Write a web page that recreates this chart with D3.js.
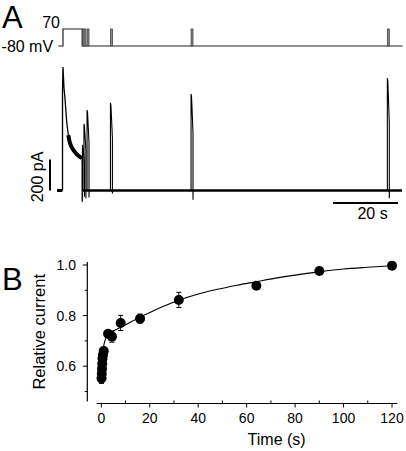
<!DOCTYPE html>
<html><head><meta charset="utf-8">
<script src="https://cdn.jsdelivr.net/npm/d3@7"></script>
<style>
html,body{margin:0;padding:0;background:#fff;}
svg{display:block;font-family:"Liberation Sans",Arial,sans-serif;}
</style></head>
<body>
<svg id="c" width="406" height="451"></svg>
<script>
// ---------- Panel A data ----------
// voltage protocol (mV), times in s (t=0 = start of conditioning step)
const holdV = -80, stepV = 70;
const protoStart = -1.5, protoEnd = 104.5;
const condStart = 0, condEnd = 5.9;
const pulseStarts = [6.0, 6.45, 7.4, 14.6, 39.4, 99.8];
const pulseWidth = 0.6;
// current trace (pA)
const preBase = [[-1.85, 0], [-0.2, 0]];
const condTrace = [[-0.15, 0], [-0.15, 650], [0, 797], [0.3, 662], [0.6, 597], [1.13, 444], [1.63, 358], [2.15, 306], [3.2, 261], [4.2, 235], [5.75, 210], [5.9, 205], [5.92, -72], [5.98, -20]];
const condThick = [[1.63, 358], [2.15, 306], [3.2, 261], [4.2, 235], [5.75, 210]];
const spikeTimes = [6.0, 6.45, 7.4, 14.6, 39.4, 99.8];
const spikePeaks = [294, 429, 519, 565, 623, 726];
const spikeTails = [-40, -50, -45, -20, -60, -50];
const baseStart = 6.0, baseEnd = 104.3;
const scaleBarI = 200, scaleBarT = 20;

// ---------- Panel B data ----------
const recTime = [0.1, 0.2, 0.3, 0.4, 0.5, 0.7, 1.0, 2.8, 4.4, 8, 16, 32, 64, 90, 120];
const recValue = [0.552, 0.57, 0.59, 0.61, 0.63, 0.645, 0.66, 0.728, 0.717, 0.771, 0.788, 0.862, 0.918, 0.976, 0.997];
const recErr = [0.02, 0.015, 0.015, 0.015, 0.015, 0.015, 0.015, 0.012, 0.022, 0.03, 0.018, 0.03, 0.008, 0.006, 0.004];
const fitTime = [0, 0.25, 0.5, 1, 1.5, 2, 3, 4, 6, 8, 12, 16, 20, 24, 28, 32, 40, 48, 56, 64, 72, 80, 90, 100, 110, 120];
const fitValue = [0.55, 0.6, 0.635, 0.68, 0.7, 0.713, 0.726, 0.734, 0.744, 0.754, 0.774, 0.794, 0.812, 0.83, 0.846, 0.861, 0.885, 0.904, 0.92, 0.934, 0.948, 0.96, 0.973, 0.984, 0.991, 0.997];
const xTicksB = [0, 20, 40, 60, 80, 100, 120];
const xMinorB = [10, 30, 50, 70, 90, 110];
const yTicksB = [0.6, 0.8, 1.0];
const yMinorB = [0.5, 0.7, 0.9];

const svg = d3.select("#c");

// ---------- Panel A ----------
const xA = d3.scaleLinear().domain([0, 20]).range([63, 128]);
const yV = d3.scaleLinear().domain([holdV, stepV]).range([46, 29]);
const yI = d3.scaleLinear().domain([0, 200]).range([190.5, 159.5]);

svg.append("text").attr("x", 2).attr("y", 28).attr("font-size", 31).text("A");

// protocol line
const protoPts = [[protoStart, holdV], [condStart, holdV], [condStart, stepV], [condEnd, stepV], [condEnd, holdV], [protoEnd, holdV]];
svg.append("path").datum(protoPts)
  .attr("d", d3.line().x(d => xA(d[0])).y(d => yV(d[1])))
  .attr("fill", "none").attr("stroke", "#222").attr("stroke-width", 1.2);
svg.selectAll("rect.pulse").data(pulseStarts).join("rect").attr("class", "pulse")
  .attr("x", d => xA(d)).attr("width", xA(pulseWidth) - xA(0))
  .attr("y", yV(stepV)).attr("height", yV(holdV) - yV(stepV))
  .attr("fill", "#888").attr("stroke", "#444").attr("stroke-width", 0.8);
svg.append("text").attr("x", xA(condStart) - 3).attr("y", yV(stepV) - 1.5)
  .attr("text-anchor", "end").attr("font-size", 16).text(stepV);
svg.append("text").attr("x", xA(protoStart) - 5).attr("y", yV(holdV) + 5.5)
  .attr("text-anchor", "end").attr("font-size", 16).text(holdV + " mV");

// current trace
const lineI = d3.line().x(d => xA(d[0])).y(d => yI(d[1]));
svg.append("path").datum(preBase).attr("d", lineI)
  .attr("fill", "none").attr("stroke", "#000").attr("stroke-width", 3);
svg.append("path").datum([[baseStart, 0], [baseEnd, 0]]).attr("d", lineI)
  .attr("fill", "none").attr("stroke", "#000").attr("stroke-width", 2.6);
svg.append("path").datum(condTrace).attr("d", lineI)
  .attr("fill", "none").attr("stroke", "#000").attr("stroke-width", 1.3);
svg.append("path").datum(condThick).attr("d", lineI.curve(d3.curveMonotoneX))
  .attr("fill", "none").attr("stroke", "#000").attr("stroke-width", 4);
lineI.curve(d3.curveLinear);
spikeTimes.forEach((t0, i) => {
  const P = spikePeaks[i];
  const pts = [[t0, 0], [t0, P], [t0 + 0.15, P * 0.97], [t0 + pulseWidth, P * 0.6],
               [t0 + pulseWidth, spikeTails[i]], [t0 + pulseWidth + 0.05, 0]];
  svg.append("path").datum(pts).attr("d", lineI)
    .attr("fill", "none").attr("stroke", "#000").attr("stroke-width", 1.1);
});

// scale bars
svg.append("line").attr("x1", xA(-4)).attr("x2", xA(-4))
  .attr("y1", yI(0)).attr("y2", yI(scaleBarI))
  .attr("stroke", "#000").attr("stroke-width", 2);
svg.append("text").attr("transform", `translate(${xA(-4) - 7},${(yI(0) + yI(scaleBarI)) / 2 + 2}) rotate(-90)`)
  .attr("text-anchor", "middle").attr("font-size", 16).text(scaleBarI + " pA");
svg.append("line").attr("x1", xA(83.1)).attr("x2", xA(83.1 + scaleBarT))
  .attr("y1", 203).attr("y2", 203)
  .attr("stroke", "#000").attr("stroke-width", 2);
svg.append("text").attr("x", xA(83.1 + scaleBarT / 2) + 7).attr("y", 219)
  .attr("text-anchor", "middle").attr("font-size", 16).text(scaleBarT + " s");

// ---------- Panel B ----------
const xB = d3.scaleLinear().domain([0, 120]).range([101.3, 392]);
const yB = d3.scaleLinear().domain([0.5, 1.0]).range([391.5, 265]);
const axisY = 403.5, axisX = 87.3;

svg.append("text").attr("x", 2).attr("y", 290).attr("font-size", 31).text("B");

const g = svg.append("g").attr("stroke", "#000");
// x axis
g.append("line").attr("x1", xB(-1.9)).attr("x2", xB(122.2)).attr("y1", axisY).attr("y2", axisY).attr("stroke-width", 1.2);
g.selectAll("line.xt").data(xTicksB).join("line").attr("class", "xt")
  .attr("x1", d => xB(d)).attr("x2", d => xB(d)).attr("y1", axisY).attr("y2", axisY + 4).attr("stroke-width", 1);
g.selectAll("line.xm").data(xMinorB).join("line").attr("class", "xm")
  .attr("x1", d => xB(d)).attr("x2", d => xB(d)).attr("y1", axisY).attr("y2", axisY - 3).attr("stroke-width", 1);
svg.selectAll("text.xl").data(xTicksB).join("text").attr("class", "xl")
  .attr("x", d => xB(d)).attr("y", 423).attr("text-anchor", "middle").attr("font-size", 14).text(d => d);
svg.append("text").attr("x", (xB(0) + xB(120)) / 2 + 30).attr("y", 445)
  .attr("text-anchor", "middle").attr("font-size", 16).text("Time (s)");
// y axis
g.append("line").attr("x1", axisX).attr("x2", axisX).attr("y1", yB(1.012)).attr("y2", yB(0.46)).attr("stroke-width", 1.2);
g.selectAll("line.yt").data(yTicksB).join("line").attr("class", "yt")
  .attr("x1", axisX - 4.5).attr("x2", axisX).attr("y1", d => yB(d)).attr("y2", d => yB(d)).attr("stroke-width", 1);
g.selectAll("line.ym").data(yMinorB).join("line").attr("class", "ym")
  .attr("x1", axisX - 2.5).attr("x2", axisX).attr("y1", d => yB(d)).attr("y2", d => yB(d)).attr("stroke-width", 1);
svg.selectAll("text.yl").data(yTicksB).join("text").attr("class", "yl")
  .attr("x", 76).attr("y", d => yB(d) + 5).attr("text-anchor", "end").attr("font-size", 14).text(d => d.toFixed(1));
svg.append("text").attr("transform", `translate(45,${(yB(0.46) + yB(1.012)) / 2}) rotate(-90)`)
  .attr("text-anchor", "middle").attr("font-size", 16.5).text("Relative current");

// fit curve
svg.append("path").datum(fitTime.map((t, i) => [t, fitValue[i]]))
  .attr("d", d3.line().x(d => xB(d[0])).y(d => yB(d[1])).curve(d3.curveMonotoneX))
  .attr("fill", "none").attr("stroke", "#000").attr("stroke-width", 1.1);

// error bars
const eb = svg.append("g").attr("stroke", "#000").attr("stroke-width", 1);
recTime.forEach((t, i) => {
  const x = xB(t), y1 = yB(recValue[i] - recErr[i]), y2 = yB(recValue[i] + recErr[i]);
  eb.append("line").attr("x1", x).attr("x2", x).attr("y1", y1).attr("y2", y2);
  eb.append("line").attr("x1", x - 2.5).attr("x2", x + 2.5).attr("y1", y1).attr("y2", y1);
  eb.append("line").attr("x1", x - 2.5).attr("x2", x + 2.5).attr("y1", y2).attr("y2", y2);
});
// points
svg.selectAll("circle.pt").data(recTime).join("circle").attr("class", "pt")
  .attr("cx", d => xB(d)).attr("cy", (d, i) => yB(recValue[i])).attr("r", 5)
  .attr("fill", "#000");
</script>
</body></html>
